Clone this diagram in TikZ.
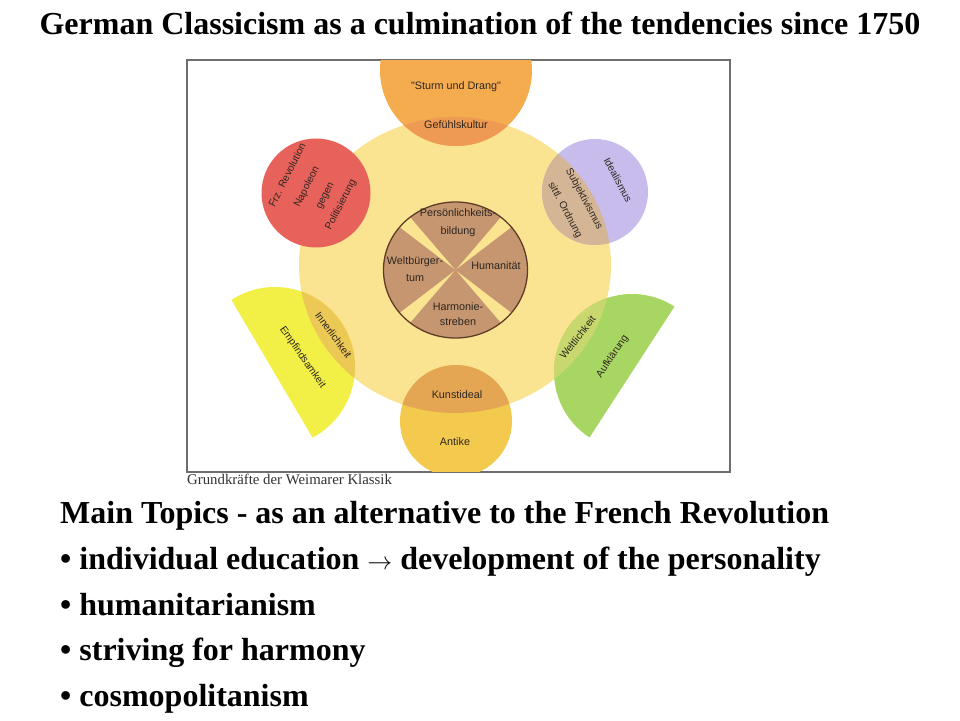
\documentclass[tikz,border=0pt]{standalone}
\usepackage{fontspec}
\setmainfont{Liberation Serif}
\newfontfamily\dsans{Liberation Sans}
\definecolor{bigY}{RGB}{250,228,145}
\definecolor{orangeC}{RGB}{245,172,78}
\definecolor{orangeOv}{RGB}{238,154,82}
\definecolor{redC}{RGB}{232,98,92}
\definecolor{purpleC}{RGB}{200,188,236}
\definecolor{purpleOv}{RGB}{212,182,150}
\definecolor{lemonC}{RGB}{242,240,70}
\definecolor{lemonOv}{RGB}{236,200,85}
\definecolor{greenC}{RGB}{168,214,98}
\definecolor{greenOv}{RGB}{200,216,110}
\definecolor{goldC}{RGB}{243,202,78}
\definecolor{goldOv}{RGB}{228,166,82}
\definecolor{brownC}{RGB}{198,150,112}
\definecolor{brownLine}{RGB}{95,60,40}
\definecolor{frameC}{RGB}{110,110,110}
\definecolor{dtxt}{RGB}{45,38,32}
\definecolor{capC}{RGB}{50,50,50}
\tikzset{
  dtext/.style={font=\dsans\fontsize{10.8}{12}\selectfont, text=dtxt, inner sep=0pt},
  rtext/.style={font=\dsans\fontsize{10.2}{12}\selectfont, text=dtxt, inner sep=0pt},
  mainline/.style={anchor=base west, font=\bfseries\fontsize{32}{36}\selectfont, inner sep=0pt},
}
\begin{document}
\begin{tikzpicture}[x=1pt,y=1pt]
\useasboundingbox (0,0) rectangle (960,720);
\fill[white] (0,0) rectangle (960,720);
% frame
\draw[frameC, line width=1.5pt] (187,248) rectangle (730,660);
\begin{scope}
  \clip (187.8,248.8) rectangle (729.2,659.2);
  \fill[bigY] (455,455) ellipse [x radius=156, y radius=148];
  \fill[orangeC] (456,650) circle (76);
  \fill[purpleC] (595,528) circle (53);
  \fill[lemonC] ([shift={(-62:80)}]275,353) arc[start angle=-62,end angle=123,radius=80] -- cycle;
  \fill[greenC] ([shift={(57:78)}]632,348) arc[start angle=57,end angle=237,radius=78] -- cycle;
  \fill[goldC] (456,299) circle (56);
  \begin{scope}
    \clip (455,455) ellipse [x radius=156, y radius=148];
    \fill[orangeOv] (456,650) circle (76);
    \fill[purpleOv] (595,528) circle (53);
    \fill[lemonOv] ([shift={(-62:80)}]275,353) arc[start angle=-62,end angle=123,radius=80] -- cycle;
    \fill[greenOv] ([shift={(57:78)}]632,348) arc[start angle=57,end angle=237,radius=78] -- cycle;
    \fill[goldOv] (456,299) circle (56);
  \end{scope}
  \fill[redC] (316,527) circle (54.5);
  % centre circle
  \fill[brownC] (455.5,450) -- ++(51:72 and 68) arc[start angle=51,end angle=129,x radius=72,y radius=68] -- cycle;
  \fill[brownC] (455.5,450) -- ++(141:72 and 68) arc[start angle=141,end angle=219,x radius=72,y radius=68] -- cycle;
  \fill[brownC] (455.5,450) -- ++(231:72 and 68) arc[start angle=231,end angle=309,x radius=72,y radius=68] -- cycle;
  \fill[brownC] (455.5,450) -- ++(-39:72 and 68) arc[start angle=-39,end angle=39,x radius=72,y radius=68] -- cycle;
  \draw[brownLine, line width=1.3pt] (455.5,450) ellipse [x radius=72, y radius=68];
\end{scope}
% diagram texts
\node[dtext] (sturm) at (456,633) {"Sturm und Drang"};
\node[dtext] (gefuehl) at (456,595) {Gefühlskultur};
\node[rtext, rotate=63] (frz) at (287,545) {Frz. Revolution};
\node[rtext, rotate=63] (napoleon) at (307,533) {Napoleon};
\node[rtext, rotate=63] (gegen) at (326,524) {gegen};
\node[rtext, rotate=63] (politis) at (341,515) {Politisierung};
\node[rtext, rotate=-62] (ideal) at (618,540) {Idealismus};
\node[rtext, rotate=-62] (subj) at (584,521) {Subjektivismus};
\node[rtext, rotate=-62] (sittl) at (565,510) {sittl. Ordnung};
\node[rtext, rotate=-55] (empf) at (302.5,362.5) {Empfindsamkeit};
\node[rtext, rotate=-54] (inner) at (333.5,385) {Innerlichkeit};
\node[rtext, rotate=52] (weltl) at (577.5,382.5) {Weltlichkeit};
\node[rtext, rotate=56] (aufkl) at (612.5,363.5) {Aufklärung};
\node[dtext] (kunst) at (457,325) {Kunstideal};
\node[dtext] (antike) at (455,278) {Antike};
\node[dtext] (pers) at (458,507) {Persönlichkeits-};
\node[dtext] (bild) at (458,488) {bildung};
\node[dtext] (weltb) at (415,458) {Weltbürger-};
\node[dtext] (tum) at (415,442) {tum};
\node[dtext] (human) at (496,454) {Humanität};
\node[dtext] (harm) at (458,413) {Harmonie-};
\node[dtext] (streb) at (458,398) {streben};
% caption
\node[anchor=base west, font=\fontsize{14.8}{16}\selectfont, text=capC, inner sep=0pt] (caption) at (187,235) {Grundkräfte der Weimarer Klassik};
% title and topics
\node[anchor=base, font=\bfseries\fontsize{32}{36}\selectfont, inner sep=0pt] (title) at (480,685) {German Classicism as a culmination of the tendencies since 1750};
\node[mainline] (topics) at (60,196) {Main Topics - as an alternative to the French Revolution};
\node[mainline] (b1) at (60,150.5) {• individual education $\rightarrow$ development of the personality};
\node[mainline] (b2) at (60,105) {• humanitarianism};
\node[mainline] (b3) at (60,59.5) {• striving for harmony};
\node[mainline] (b4) at (60,14) {• cosmopolitanism};
\end{tikzpicture}
\end{document}
